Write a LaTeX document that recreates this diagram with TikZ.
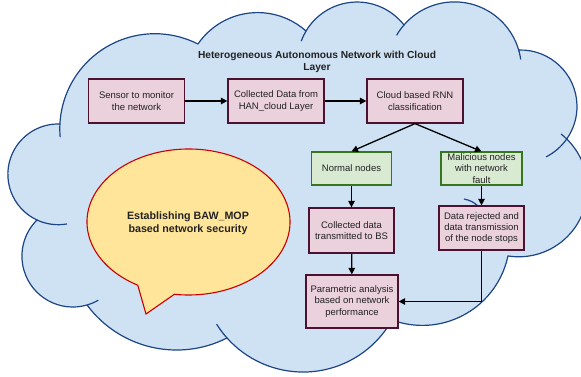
\documentclass[tikz,border=0pt]{standalone}
\usepackage{fontspec}
\setmainfont{Liberation Sans}
\usetikzlibrary{arrows.meta}
\definecolor{cloudfill}{HTML}{CFE2F3}
\definecolor{cloudline}{HTML}{1C4587}
\definecolor{pinkfill}{HTML}{EAD1DC}
\definecolor{pinkline}{HTML}{4C1130}
\definecolor{greenfill}{HTML}{D9EAD3}
\definecolor{greenline}{HTML}{38761D}
\definecolor{bubblefill}{HTML}{FFE599}
\definecolor{bubbleline}{HTML}{CC0000}
\definecolor{txt}{HTML}{222222}
\begin{document}
\begin{tikzpicture}[x=1pt,y=-1pt,
 box/.style={draw=pinkline,fill=pinkfill,line width=1.2pt,inner sep=0pt,align=center,text=txt,font=\fontsize{9.5}{11.3}\selectfont},
 gbox/.style={box,draw=greenline,fill=greenfill},
 arr/.style={line width=1.3pt,-{Triangle[length=6.5pt,width=6.5pt]}},
 cloudedge/.style={draw=cloudline,line width=1.2pt},
]
\useasboundingbox (0,0) rectangle (581,377);
\begin{scope}
\clip (0,0) rectangle (581,377);
\path[fill=cloudfill,cloudedge,line join=round]
 ([shift={(-177.1:95.1)}]154.9,128.8) arc[start angle=-177.1,end angle=-63.1,radius=95.1]
 -- ([shift={(-145.5:72.5)}]257.7,85.07) arc[start angle=-145.5,end angle=-48.2,radius=72.5]
 -- ([shift={(-149.2:59.4)}]357.05,61.43) arc[start angle=-149.2,end angle=-37.8,radius=59.4]
 -- ([shift={(-139.1:66.86)}]454.5,68.77) arc[start angle=-139.1,end angle=-15.4,radius=66.86]
 -- ([shift={(-91.5:56.5)}]520.5,106.5) arc[start angle=-91.5,end angle=35.1,radius=56.5]
 -- ([shift={(-45.6:68.7)}]518.7,188.1) arc[start angle=-45.6,end angle=99,radius=68.7]
 -- ([shift={(11.9:87.5)}]422.35,237.9) arc[start angle=11.9,end angle=110.3,radius=87.5]
 -- ([shift={(29.3:102)}]303.07,270.04) arc[start angle=29.3,end angle=138.2,radius=102]
 -- ([shift={(63.1:111.5)}]176.56,238.52) arc[start angle=63.1,end angle=143.4,radius=111.5]
 -- ([shift={(73.8:50.9)}]72.84,256.12) arc[start angle=73.8,end angle=225.2,radius=50.9]
 -- ([shift={(114.9:50.36)}]58.22,174.33) arc[start angle=114.9,end angle=272,radius=50.36]
 -- cycle;
% interior stubs
\draw[cloudedge] ([shift={(-185:95.1)}]154.9,128.8) arc[start angle=-185,end angle=-177.1,radius=95.1];
\draw[cloudedge] ([shift={(-160:59.4)}]357.05,61.43) arc[start angle=-160,end angle=-149.2,radius=59.4];
\draw[cloudedge] ([shift={(-150:66.86)}]454.5,68.77) arc[start angle=-150,end angle=-139.1,radius=66.86];
\draw[cloudedge] ([shift={(-15.4:66.86)}]454.5,68.77) arc[start angle=-15.4,end angle=-8,radius=66.86];
\draw[cloudedge] ([shift={(35.1:56.5)}]520.5,106.5) arc[start angle=35.1,end angle=63,radius=56.5];
\draw[cloudedge] ([shift={(-52:68.7)}]518.7,188.1) arc[start angle=-52,end angle=-45.6,radius=68.7];
\draw[cloudedge] ([shift={(138.2:102)}]303.07,270.04) arc[start angle=138.2,end angle=148,radius=102];
\draw[cloudedge] ([shift={(60:50.9)}]72.84,256.12) arc[start angle=60,end angle=73.8,radius=50.9];
\draw[cloudedge] ([shift={(80:50.36)}]58.22,174.33) arc[start angle=80,end angle=114.9,radius=50.36];
\draw[cloudedge] (464,199) to[bend left=15] (478,206);
\end{scope}

% title
\node[font=\bfseries\fontsize{10.2}{12}\selectfont,align=center,text=txt] (title) at (317,62) {Heterogeneous Autonomous Network with Cloud\\Layer};

% speech bubble
\path[fill=bubblefill,draw=bubbleline,line width=1.1pt,line join=miter]
 ([shift={(120:101.5 and 73)}]188.5,222) arc[start angle=120,end angle=458,x radius=101.5,y radius=73]
 -- (146,314) -- cycle;
\node[font=\bfseries\fontsize{10.7}{13}\selectfont,align=center,text=txt] (bubbletext) at (188,223.5) {Establishing BAW\_MOP\\based network security};

% boxes
\node[box,minimum width=96pt,minimum height=44pt] (sensor) at (136.5,101) {Sensor to monitor\\the network};
\node[box,minimum width=96pt,minimum height=44pt] (collected) at (276,101) {Collected Data from\\HAN\_cloud Layer};
\node[box,minimum width=96pt,minimum height=44pt] (rnn) at (415,101) {Cloud based RNN\\classification};
\node[gbox,minimum width=80pt,minimum height=33pt] (normal) at (351.5,168.5) {Normal nodes};
\node[gbox,minimum width=81pt,minimum height=33pt] (malicious) at (481.5,168.5) {Malicious nodes\\with network\\fault};
\node[box,minimum width=85pt,minimum height=45pt] (bs) at (351.5,230.5) {Collected data\\transmitted to BS};
\node[box,minimum width=85pt,minimum height=44pt] (rejected) at (481.5,228) {Data rejected and\\data transmission\\of the node stops};
\node[box,minimum width=92pt,minimum height=53pt] (param) at (352,301.5) {Parametric analysis\\based on network\\performance};

% connectors
\draw[arr] (sensor) -- (collected);
\draw[arr] (collected) -- (rnn);
\draw[arr] (rnn.south) -- (normal.north);
\draw[arr] (rnn.south) -- (malicious.north);
\draw[arr] (normal) -- (bs);
\draw[arr] (bs) -- (param);
\draw[arr] (malicious) -- (rejected);
\draw[arr] (rejected.south) |- (param.east);
\end{tikzpicture}
\end{document}
